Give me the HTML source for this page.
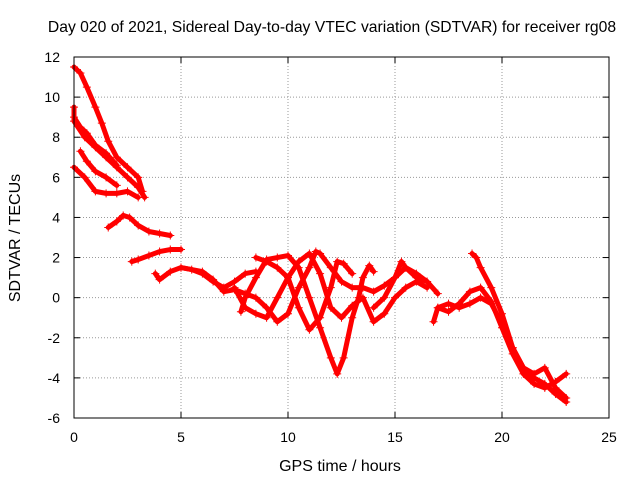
<!DOCTYPE html>
<html><head><meta charset="utf-8"><style>
body{margin:0;background:#fff}
svg{display:block;font-family:"Liberation Sans",sans-serif}
</style></head><body>
<svg id="chart" width="640" height="480">
<text x="332" y="32" font-size="15.7" text-anchor="middle">Day 020 of 2021, Sidereal Day-to-day VTEC variation (SDTVAR) for receiver rg08</text>
<text x="340" y="471" font-size="16" text-anchor="middle">GPS time / hours</text>
<text transform="translate(20,238) rotate(-90)" font-size="16" text-anchor="middle">SDTVAR / TECUs</text>
<g id="grid"></g><g id="series"></g>
<rect x="74" y="57" width="535" height="361" fill="none" stroke="#000"/>
</svg>
<script>
const xTicks=[0,5,10,15,20,25];
const yTicks=[-6,-4,-2,0,2,4,6,8,10,12];
const track1=[[0,11.5],[0.3,11.2],[0.6,10.5],[1,9.5],[1.3,8.7],[1.6,7.8],[2,7],[2.5,6.5],[3,6],[3.2,5.3]];
const track2=[[0,9.5],[0,8.8],[0.5,8],[1,7.5],[1.5,7],[2,6.5],[2.5,6],[3,5.5],[3.3,5]];
const track3=[[0,6.5],[0.5,6],[1,5.3],[1.5,5.2],[2,5.2],[2.5,5.3],[3,5]];
const track4=[[0,9],[0.3,8.5],[0.6,8.2],[1,7.6],[1.5,7.2],[2,6.6]];
const track5=[[0.3,7.3],[0.6,6.8],[1,6.3],[1.5,6],[2,5.6]];
const track6=[[1.6,3.5],[2,3.8],[2.3,4.1],[2.6,4],[3,3.6],[3.5,3.3],[4,3.2],[4.5,3.1]];
const track7=[[2.7,1.8],[3,1.9],[3.5,2.1],[4,2.3],[4.5,2.4],[5,2.4]];
const track8=[[3.8,1.2],[4,0.9],[4.5,1.3],[5,1.5],[5.5,1.4],[6,1.2],[6.5,0.8],[7,0.5],[7.5,0.8],[8,1.2],[8.5,1.3]];
const track9=[[5,1.5],[6,1.3],[6.5,0.9],[7,0.3],[7.5,0.4],[8,0.2],[8.5,0],[9,-0.5],[9.5,-1.2],[10,-0.8],[10.5,0.5],[11,1.5],[11.3,2.3],[11.5,2.2],[12,1.5],[12.5,0.8],[13,0.5],[13.5,0.5],[14,0.3],[14.5,0.6],[15,1],[15.5,1.5],[16,1.2],[16.5,0.8]];
const track10=[[7.8,-0.7],[8,0],[8.5,1],[9,1.9],[9.5,2],[10,2.1],[10.5,1.5],[11,0],[11.5,-1.5],[12,-3],[12.3,-3.8],[12.6,-3],[13,-1],[13.3,0],[13.5,1],[13.8,1.6],[14,1.3]];
const track11=[[8.5,2],[9,1.8],[9.5,1.5],[10,1],[10.5,-0.5],[11,-1.6],[11.5,-1],[12,0.5],[12.3,1.8],[12.6,1.7],[13,1.2]];
const track12=[[7.5,0.5],[8,-0.5],[8.5,-0.8],[9,-1],[9.5,0],[10,1],[10.5,1.8],[11,2.2],[11.5,1.2],[12,-0.5],[12.5,-1],[13,-0.4],[13.5,0],[14,-1.2],[14.5,-0.8],[15,0],[15.5,0.5],[16,0.8],[16.5,0.5]];
const track13=[[14,-0.5],[14.5,0],[15,1],[15.3,1.8],[15.5,1.5],[16,1],[16.5,0.8],[17,0.2]];
const track14=[[16.8,-1.2],[17,-0.5],[17.5,-0.3],[18,-0.5],[18.5,-0.3],[19,0],[19.5,-0.3],[20,-1.3],[20.5,-2.5],[21,-3.5],[21.5,-4],[22,-4.3],[22.5,-4.8],[23,-5.2]];
const track15=[[17,-0.5],[17.5,-0.7],[18,-0.3],[18.5,0.3],[19,0.5],[19.5,-0.2],[20,-1.5],[20.5,-2.8],[21,-3.8],[21.5,-4.3],[22,-4.5],[22.5,-4.2],[23,-3.8]];
const track16=[[18.6,2.2],[18.8,2],[19,1.5],[19.5,0.5],[20,-0.8],[20.5,-2.5],[21,-3.5],[21.5,-3.8],[22,-3.5],[22.5,-4.5],[23,-5]];
const tracks=[track1,track2,track3,track4,track5,track6,track7,track8,track9,track10,track11,track12,track13,track14,track15,track16];

const X0=74,X1=609,Y0=418,Y1=57;
const sx=v=>X0+(v-0)/(25-0)*(X1-X0);
const sy=v=>Y0-(v-(-6))/(12-(-6))*(Y0-Y1);
const NS="http://www.w3.org/2000/svg";
const svg=document.getElementById('chart');
const grid=document.getElementById('grid'), ser=document.getElementById('series');
function mk(tag,attrs,parent){const e=document.createElementNS(NS,tag);for(const k in attrs)e.setAttribute(k,attrs[k]);parent.appendChild(e);return e;}
xTicks.forEach(t=>{
  const x=sx(t);
  if(t>0&&t<25){const g=mk('line',{x1:x,x2:x,y1:Y1,y2:Y0,stroke:'#999','stroke-dasharray':'1,2'},grid);
  
  }
  mk('line',{x1:x,x2:x,y1:Y0,y2:Y0-6,stroke:'#000'},grid);
  mk('line',{x1:x,x2:x,y1:Y1,y2:Y1+6,stroke:'#000'},grid);
  const l=mk('text',{x:x,y:442,'font-size':14,'text-anchor':'middle'},svg);
  l.textContent=t;
  
  
});
yTicks.forEach(t=>{
  const y=sy(t);
  if(t>-6&&t<12){const g=mk('line',{x1:X0,x2:X1,y1:y,y2:y,stroke:'#999','stroke-dasharray':'1,2'},grid);
  
  }
  mk('line',{x1:X0,x2:X0+6,y1:y,y2:y,stroke:'#000'},grid);
  mk('line',{x1:X1,x2:X1-6,y1:y,y2:y,stroke:'#000'},grid);
  const l=mk('text',{x:60,y:y+5,'font-size':14,'text-anchor':'end'},svg);
  l.textContent=t;
  
  
});
tracks.forEach((tr,i)=>{
  const g=mk('g',{},ser);
  
  
  mk('polyline',{points:tr.map(p=>sx(p[0])+','+sy(p[1])).join(' '),fill:'none',stroke:'#f00','stroke-width':5,'stroke-linejoin':'round','stroke-linecap':'round'},g);
  tr.forEach(p=>{
    const x=sx(p[0]),y=sy(p[1]);
    const m=mk('path',{d:`M${x-4},${y}H${x+4}M${x},${y-4}V${y+4}`,stroke:'#f00','stroke-width':1},g);
    
    
  });
});
</script>
</body></html>
